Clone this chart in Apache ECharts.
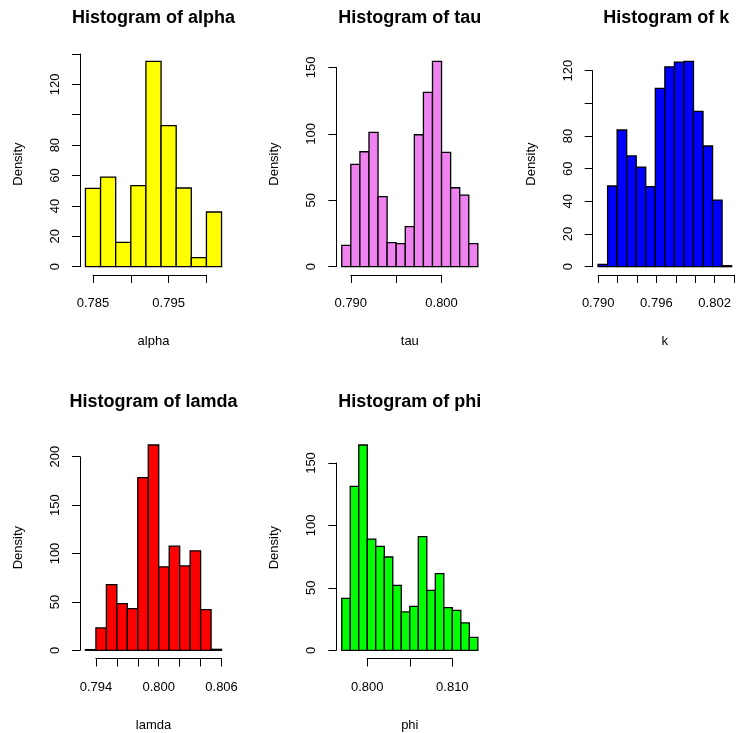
<!DOCTYPE html>
<html>
<head>
<meta charset="utf-8">
<script src="https://cdn.jsdelivr.net/npm/echarts@6/dist/echarts.min.js"></script>
<style>
  html, body { margin: 0; padding: 0; background: #fff; }
  #chart { width: 737px; height: 733px; }
</style>
</head>
<body>
<div id="chart"></div>
<script>
// densities, one value per bin
const alphaStart = 0.784, alphaBin = 0.002;
const alphaDensity = [51.6, 59.0, 16.0, 53.3, 135.1, 92.8, 51.8, 5.9, 36.0];
const alphaXTicks = [0.785, 0.790, 0.795, 0.800];
const alphaXLabels = ["0.785", "", "0.795", ""];
const alphaYTicks = [0, 20, 40, 60, 80, 100, 120, 140];
const alphaYLabels = ["0", "20", "40", "60", "80", "", "120", ""];

const tauStart = 0.789, tauBin = 0.001;
const tauDensity = [16.1, 77.0, 86.5, 101.1, 52.7, 18.1, 17.3, 30.1, 99.3, 131.2, 154.5, 86.0, 59.4, 53.9, 17.3];
const tauXTicks = [0.790, 0.795, 0.800];
const tauXLabels = ["0.790", "", "0.800"];
const tauYTicks = [0, 50, 100, 150];
const tauYLabels = ["0", "50", "100", "150"];

const kStart = 0.790, kBin = 0.001;
const kDensity = [1.4, 49.4, 83.7, 67.8, 61.0, 49.0, 109.2, 122.4, 125.3, 125.7, 95.1, 73.9, 40.8, 0.6];
const kXTicks = [0.790, 0.792, 0.794, 0.796, 0.798, 0.800, 0.802, 0.804];
const kXLabels = ["0.790", "", "", "0.796", "", "", "0.802", ""];
const kYTicks = [0, 20, 40, 60, 80, 100, 120];
const kYLabels = ["0", "20", "40", "60", "80", "", "120"];

const lamdaStart = 0.793, lamdaBin = 0.001;
const lamdaDensity = [0.7, 23.1, 67.9, 48.3, 43.1, 178.3, 212.1, 86.2, 107.6, 87.2, 102.8, 42.1, 1.0];
const lamdaXTicks = [0.794, 0.796, 0.798, 0.800, 0.802, 0.804, 0.806];
const lamdaXLabels = ["0.794", "", "", "0.800", "", "", "0.806"];
const lamdaYTicks = [0, 50, 100, 150, 200];
const lamdaYLabels = ["0", "50", "100", "150", "200"];

const phiStart = 0.797, phiBin = 0.001;
const phiDensity = [41.6, 131.3, 164.4, 89.1, 83.3, 74.7, 52.0, 30.7, 35.2, 91.0, 48.0, 61.4, 34.2, 32.0, 21.9, 10.4];
const phiXTicks = [0.800, 0.805, 0.810];
const phiXLabels = ["0.800", "", "0.810"];
const phiYTicks = [0, 50, 100, 150];
const phiYLabels = ["0", "50", "100", "150"];

const panels = [
  { name: "alpha", color: "#ffff00", start: alphaStart, bin: alphaBin, density: alphaDensity, xTicks: alphaXTicks, xLabels: alphaXLabels, yTicks: alphaYTicks, yLabels: alphaYLabels, col: 0, row: 0 },
  { name: "tau", color: "#ee82ee", start: tauStart, bin: tauBin, density: tauDensity, xTicks: tauXTicks, xLabels: tauXLabels, yTicks: tauYTicks, yLabels: tauYLabels, col: 1, row: 0 },
  { name: "k", color: "#0000ff", start: kStart, bin: kBin, density: kDensity, xTicks: kXTicks, xLabels: kXLabels, yTicks: kYTicks, yLabels: kYLabels, col: 2, row: 0 },
  { name: "lamda", color: "#ff0000", start: lamdaStart, bin: lamdaBin, density: lamdaDensity, xTicks: lamdaXTicks, xLabels: lamdaXLabels, yTicks: lamdaYTicks, yLabels: lamdaYLabels, col: 0, row: 1 },
  { name: "phi", color: "#00ff00", start: phiStart, bin: phiBin, density: phiDensity, xTicks: phiXTicks, xLabels: phiXLabels, yTicks: phiYTicks, yLabels: phiYLabels, col: 1, row: 1 },
];

// plot regions (R style: axes drawn only between first and last tick)
const plotW = 147, plotH = 221.7;
const colLeft = [80, 336.3, 592.7];
const rowTop = [53.2, 436.8];
const font = "Liberation Sans";

const grid = [], xAxis = [], yAxis = [], series = [], title = [];

const pick = (ticks, labels) => (v) => {
  const i = ticks.findIndex((t) => Math.abs(t - v) < 1e-9);
  return i >= 0 ? labels[i] : "";
};
const step = (ticks) => Math.round((ticks[1] - ticks[0]) * 1e6) / 1e6;

panels.forEach((p) => {
  const L = colLeft[p.col], T = rowTop[p.row];
  const end = p.start + p.bin * p.density.length;
  const xr = end - p.start;
  const xmin = p.start - 0.04 * xr, xmax = end + 0.04 * xr;
  const ymax = Math.max(...p.density);
  const ylo = -0.04 * ymax, yhi = 1.04 * ymax;

  // main plot (bars + axis names)
  const gi = grid.length;
  grid.push({ left: L, top: T, width: plotW, height: plotH });
  xAxis.push({
    type: "value", gridIndex: gi, min: xmin, max: xmax,
    axisLine: { show: false }, axisTick: { show: false }, axisLabel: { show: false }, splitLine: { show: false },
    name: p.name, nameLocation: "middle", nameGap: 60,
    nameTextStyle: { fontSize: 13, color: "#000", fontFamily: font },
  });
  yAxis.push({
    type: "value", gridIndex: gi, min: ylo, max: yhi,
    axisLine: { show: false }, axisTick: { show: false }, axisLabel: { show: false }, splitLine: { show: false },
    name: "Density", nameLocation: "middle", nameGap: 55, nameRotate: 90,
    nameTextStyle: { fontSize: 13, color: "#000", fontFamily: font },
  });
  series.push({
    type: "custom", xAxisIndex: gi, yAxisIndex: gi, clip: false,
    data: p.density.map((d, k) => [p.start + k * p.bin, p.start + (k + 1) * p.bin, d]),
    encode: { x: [0, 1], y: 2 },
    renderItem: (params, api) => {
      const a = api.coord([api.value(0), 0]);
      const b = api.coord([api.value(1), api.value(2)]);
      return {
        type: "rect",
        shape: { x: a[0], y: b[1], width: b[0] - a[0], height: a[1] - b[1] },
        style: { fill: p.color, stroke: "#000", lineWidth: 1.3 },
      };
    },
  });

  // x axis between first and last tick
  const xt = p.xTicks;
  const xg = grid.length;
  grid.push({
    left: L + ((xt[0] - xmin) / (xmax - xmin)) * plotW,
    width: ((xt[xt.length - 1] - xt[0]) / (xmax - xmin)) * plotW,
    top: T, height: plotH,
  });
  xAxis.push({
    type: "value", gridIndex: xg, min: xt[0], max: xt[xt.length - 1], interval: step(xt),
    axisLine: { lineStyle: { color: "#000", width: 1 } },
    axisTick: { length: 8, lineStyle: { color: "#000", width: 1 } },
    axisLabel: { margin: 22, fontSize: 13, color: "#000", fontFamily: font, showMinLabel: true, showMaxLabel: true, hideOverlap: false, formatter: pick(xt, p.xLabels) },
    splitLine: { show: false },
  });
  yAxis.push({ type: "value", gridIndex: xg, show: false });

  // y axis between first and last tick
  const yt = p.yTicks;
  const yg = grid.length;
  grid.push({
    left: L, width: plotW,
    top: T + ((yhi - yt[yt.length - 1]) / (yhi - ylo)) * plotH,
    height: ((yt[yt.length - 1] - yt[0]) / (yhi - ylo)) * plotH,
  });
  xAxis.push({ type: "value", gridIndex: yg, show: false });
  yAxis.push({
    type: "value", gridIndex: yg, min: yt[0], max: yt[yt.length - 1], interval: step(yt),
    axisLine: { show: true, lineStyle: { color: "#000", width: 1 } },
    axisTick: { show: true, length: 8, lineStyle: { color: "#000", width: 1 } },
    axisLabel: { rotate: 90, margin: 18, fontSize: 13, color: "#000", fontFamily: font, showMinLabel: true, showMaxLabel: true, hideOverlap: false, formatter: pick(yt, p.yLabels) },
    splitLine: { show: false },
  });

  title.push({
    text: "Histogram of " + p.name,
    left: L + plotW / 2, top: T - 44, textAlign: "center", padding: 0,
    textStyle: { fontSize: 18, fontWeight: "bold", color: "#000", fontFamily: font },
  });
});

const chart = echarts.init(document.getElementById("chart"), null, { renderer: "canvas" });
chart.setOption({
  animation: false,
  backgroundColor: "#fff",
  textStyle: { fontFamily: font },
  title, grid, xAxis, yAxis, series,
});
</script>
</body>
</html>
